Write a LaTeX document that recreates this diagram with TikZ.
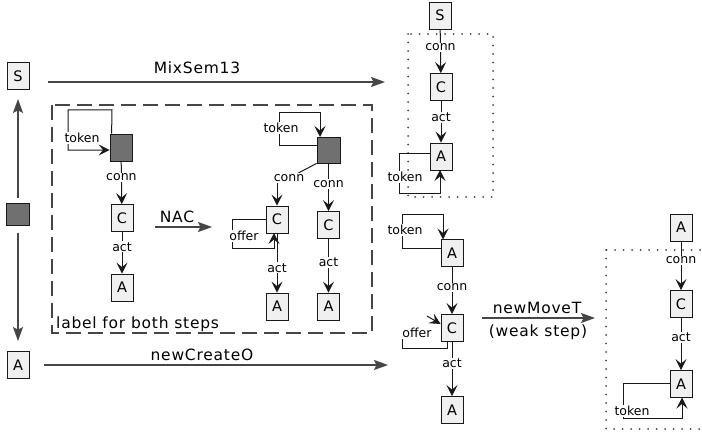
\documentclass[tikz,border=0pt]{standalone}
\usepackage{fontspec}
\setmainfont{DejaVu Sans}
\newfontfamily\widefont[LetterSpace=5]{DejaVu Sans}
\usetikzlibrary{arrows.meta}
\definecolor{boxfill}{RGB}{240,240,240}
\definecolor{gsq}{RGB}{112,112,112}
\definecolor{lncol}{RGB}{25,25,25}
\definecolor{bigcol}{RGB}{70,70,70}
\begin{document}
\begin{tikzpicture}[x=1pt,y=-1pt,
  box/.style={draw=lncol, fill=boxfill, line width=0.8pt, minimum width=22pt, minimum height=27pt, inner sep=0pt, font=\fontsize{14.5}{15}\selectfont},
  gbox/.style={draw=lncol, fill=gsq, line width=0.8pt, minimum width=23pt, minimum height=26pt, inner sep=0pt},
  lab/.style={fill=white, inner sep=1pt, font=\fontsize{12.5}{13}\selectfont},
  bigtext/.style={font={\widefont\fontsize{15.5}{16}\selectfont}, inner sep=0pt},
  arr/.style={draw=lncol, line width=1pt, -{Stealth[length=11pt,width=11pt,inset=4.5pt]}},
  thinln/.style={draw=lncol, line width=1pt},
  bigarr/.style={draw=bigcol, line width=1.6pt, -{Stealth[length=14pt,width=10pt,inset=2.5pt]}},
  dashbox/.style={draw=bigcol, line width=1.8pt, dash pattern=on 15pt off 7pt},
  dotbox/.style={draw=bigcol, line width=2pt, line cap=round, dash pattern=on 0pt off 8.5pt}
]
\useasboundingbox (0,0) rectangle (702,436);

% ---------- left column ----------
\node[box] (S0) at (18,76) {S};
\node[gbox, minimum height=22pt] (G0) at (18,214) {};
\node[box] (A0) at (18,365) {A};
\draw[bigarr, shorten <=5pt, shorten >=9pt] (G0) -- (S0);
\draw[bigarr, shorten <=8pt, shorten >=10pt] (G0) -- (A0);

% ---------- main arrows ----------
\coordinate (m1) at (48,82);
\coordinate (m2) at (385,82);
\draw[bigarr] (m1) -- (m2);
\node[bigtext, anchor=base] (mixlab) at (197,74) {MixSem13};
\coordinate (n1) at (44,365);
\coordinate (n2) at (388,365);
\draw[bigarr] (n1) -- (n2);
\node[bigtext, anchor=base] (crlab) at (202,360) {newCreateO};

% ---------- dashed frame ----------
\draw[dashbox] (52,105) rectangle (372,333);
\node[bigtext, anchor=base west] (lbl) at (56,328) {label for both steps};

% ---------- step 1 (left part of frame) ----------
\node[gbox, minimum width=22pt, minimum height=27pt] (G1) at (121,147.5) {};
\node[box] (C1) at (122,218) {C};
\node[box] (A1) at (122,287.5) {A};
\draw[arr] ([xshift=2pt]G1.north west) -- (112,110) -- (68,110) -- (68,150) -- ([yshift=-2.5pt]G1.west);
\node[lab] (t1) at (82,138) {token};
\draw[arr] (G1) -- node[lab, pos=0.37] {conn} (C1);
\draw[arr] (C1) -- node[lab, pos=0.36] {act} (A1);

\coordinate (nac1) at (155,227);
\coordinate (nac2) at (212,227);
\draw[bigarr, line width=1.3pt] (nac1) -- (nac2);
\node[bigtext, anchor=base] (naclab) at (177,222) {NAC};

% ---------- step 2 (right part of frame) ----------
\node[gbox] (G2) at (328.5,150) {};
\node[box] (C2) at (277,219.5) {C};
\node[box] (A2) at (277,306.5) {A};
\node[box] (C3) at (328.5,225) {C};
\node[box] (A3) at (328.5,306.5) {A};
\draw[arr] ([yshift=5pt]G2.west) -- (279,145) -- (279,112) -- (320,112) -- (320,137);
\node[lab] (t2) at (281,128) {token};
\coordinate (cn2c) at (289,178);
\draw[thinln] (G2.south west) -- (cn2c);
\node[lab] (cn2) at (cn2c) {conn};
\draw[arr] (cn2.south -| C2.north) -- (C2.north);
\draw[arr] (C2.west) -- (232,219.5) -- (232,248) -- (274,248) -- (274,233);
\node[lab] (of2) at (244,236) {offer};
\draw[arr] (C2) -- node[lab, pos=0.58] {act} (A2);
\draw[arr] (G2) -- node[lab, pos=0.43] {conn} (C3);
\draw[arr] (C3) -- node[lab, pos=0.44] {act} (A3);

% ---------- result of MixSem13 ----------
\node[box] (S5) at (440,15.5) {S};
\draw[dotbox] (408,34) rectangle (493,197);
\node[box] (C5) at (441,87) {C};
\node[box] (A5) at (441,156.5) {A};
\draw[arr] (S5) -- node[lab, pos=0.41] {conn} (C5);
\draw[arr] (C5) -- node[lab, pos=0.4] {act} (A5);
\draw[arr] ([yshift=3.5pt]A5.west) -- (399,153) -- (399,193) -- (440,193) -- (440,170);
\node[lab] (t5) at (405,177) {token};

% ---------- result of newCreateO ----------
\node[box] (A6) at (452,253) {A};
\node[box] (C6) at (452,328) {C};
\node[box] (A7) at (452,410) {A};
\draw[arr] ([yshift=5pt]A6.west) -- (402,248) -- (402,214) -- (443,214) -- (443,239.5);
\node[lab] (t6) at (405,230) {token};
\draw[arr] (A6) -- node[lab, pos=0.43] {conn} (C6);
\draw[arr] (C6) -- node[lab, pos=0.39] {act} (A7);
\draw[thinln] (447,341.5) -- (447,348) -- (402,348) -- (402,336);
\node[lab] (of6) at (417,333) {offer};
\coordinate (of6a) at (427,316);
\draw[arr] (of6a) -- ([yshift=4pt]C6.west);

% ---------- newMoveT ----------
\coordinate (w1) at (482,318);
\coordinate (w2) at (595,318);
\draw[bigarr] (w1) -- (w2);
\node[bigtext, anchor=base] (mvlab) at (537,313) {newMoveT};
\node[bigtext, anchor=base] (wklab) at (538,336) {(weak step)};

% ---------- result of newMoveT ----------
\node[box] (A8) at (681,227.5) {A};
\draw[dotbox] (606,250) rectangle (712,429);
\node[box] (C8) at (681,304) {C};
\node[box] (A9) at (681,384) {A};
\draw[arr] (A8) -- node[lab, pos=0.39] {conn} (C8);
\draw[arr] (C8) -- node[lab, pos=0.37] {act} (A9);
\draw[arr] ([yshift=1pt]A9.west) -- (623,383) -- (623,418) -- (682,418) -- (682,397.5);
\node[lab] (t9) at (632,411) {token};
\end{tikzpicture}
\end{document}
